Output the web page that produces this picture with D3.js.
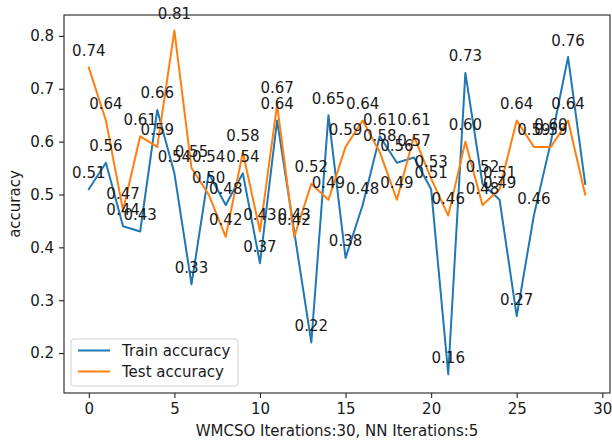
<!DOCTYPE html>
<html>
<head>
<meta charset="utf-8">
<script src="https://cdn.jsdelivr.net/npm/d3@7"></script>
<style>
  html, body { margin: 0; padding: 0; background: #fff; }
  svg { display: block; font-family: "DejaVu Sans", sans-serif; }
</style>
</head>
<body>
<svg id="chart" width="612" height="444"></svg>
<script>
// Iteration index for each run
const iterations = [0,1,2,3,4,5,6,7,8,9,10,11,12,13,14,15,16,17,18,19,20,21,22,23,24,25,26,27,28,29];

// Accuracy per iteration
const trainAcc = [0.51,0.56,0.44,0.43,0.66,0.54,0.33,0.54,0.48,0.54,0.37,0.64,0.43,0.22,0.65,0.38,0.48,0.61,0.56,0.57,0.51,0.16,0.73,0.52,0.49,0.27,0.46,0.60,0.76,0.52];
const testAcc  = [0.74,0.64,0.47,0.61,0.59,0.81,0.55,0.50,0.42,0.58,0.43,0.67,0.42,0.52,0.49,0.59,0.64,0.58,0.49,0.61,0.53,0.46,0.60,0.48,0.51,0.64,0.59,0.59,0.64,0.50];

const seriesNames = ["Train accuracy", "Test accuracy"];
const xTicks = [0, 5, 10, 15, 20, 25, 30];
const yTicks = [0.2, 0.3, 0.4, 0.5, 0.6, 0.7, 0.8];
const xTitle = "WMCSO Iterations:30, NN Iterations:5";
const yTitle = "accuracy";

// Layout and style
const W = 612, H = 444;
const margin = { top: 15, right: 2, bottom: 51, left: 64 };
const colors = ["#1f77b4", "#ff7f0e"];
const fontSize = 15;
const textColor = "#1a1a1a";
const xDomain = [-1.45, 30.45];
const yDomain = [0.1245, 0.8395];

const svg = d3.select("#chart");
const iw = W - margin.left - margin.right;
const ih = H - margin.top - margin.bottom;

const x = d3.scaleLinear().domain(xDomain).range([margin.left, margin.left + iw]);
const y = d3.scaleLinear().domain(yDomain).range([margin.top + ih, margin.top]);

// Axes
const xAxis = d3.axisBottom(x).tickValues(xTicks).tickFormat(d3.format("d")).tickSizeOuter(0).tickSize(5).tickPadding(5);
const yAxis = d3.axisLeft(y).tickValues(yTicks).tickFormat(d3.format(".1f")).tickSizeOuter(0).tickSize(5).tickPadding(5);

const gx = svg.append("g").attr("transform", `translate(0,${margin.top + ih})`).call(xAxis);
const gy = svg.append("g").attr("transform", `translate(${margin.left},0)`).call(yAxis);
[gx, gy].forEach(g => {
  g.select(".domain").remove();
  g.selectAll(".tick line").attr("stroke", "#222").attr("stroke-width", 1.1);
  g.selectAll(".tick text").attr("fill", textColor).style("font-size", fontSize + "px")
    .style("font-family", "'DejaVu Sans', sans-serif");
});

// Line series
const series = [trainAcc, testAcc];
const line = d3.line().x((d, i) => x(iterations[i])).y(d => y(d));
const plot = svg.append("g");
series.forEach((vals, s) => {
  plot.append("path")
    .datum(vals)
    .attr("fill", "none")
    .attr("stroke", colors[s])
    .attr("stroke-width", 2)
    .attr("stroke-linejoin", "round")
    .attr("stroke-linecap", "square")
    .attr("d", line);
});

// Value annotations (every point except the final iteration)
const labels = svg.append("g")
  .attr("font-size", fontSize)
  .attr("fill", textColor)
  .attr("text-anchor", "middle");
series.forEach(vals => {
  vals.slice(0, -1).forEach((v, i) => {
    labels.append("text")
      .attr("x", x(iterations[i]))
      .attr("y", y(v) - 11.5)
      .text(v.toFixed(2));
  });
});

// Frame
svg.append("rect")
  .attr("x", margin.left).attr("y", margin.top)
  .attr("width", iw).attr("height", ih)
  .attr("fill", "none").attr("stroke", "#222").attr("stroke-width", 1.1);

// Axis titles
svg.append("text")
  .attr("x", margin.left + iw / 2).attr("y", 436)
  .attr("text-anchor", "middle").attr("font-size", fontSize).attr("fill", textColor)
  .text(xTitle);
svg.append("text")
  .attr("transform", `translate(20,${margin.top + ih / 2}) rotate(-90)`)
  .attr("text-anchor", "middle").attr("font-size", fontSize).attr("fill", textColor)
  .text(yTitle);

// Legend
const lg = svg.append("g").attr("transform", "translate(71,339)");
lg.append("rect")
  .attr("width", 167).attr("height", 47).attr("rx", 3)
  .attr("fill", "#fff").attr("fill-opacity", 0.8)
  .attr("stroke", "#d0d0d0").attr("stroke-width", 1);
seriesNames.forEach((name, s) => {
  const cy = 11.5 + s * 21;
  lg.append("line")
    .attr("x1", 7).attr("x2", 39).attr("y1", cy).attr("y2", cy)
    .attr("stroke", colors[s]).attr("stroke-width", 2);
  lg.append("text")
    .attr("x", 51).attr("y", cy).attr("dy", "0.35em")
    .attr("font-size", fontSize).attr("fill", textColor)
    .text(name);
});
</script>
</body>
</html>
